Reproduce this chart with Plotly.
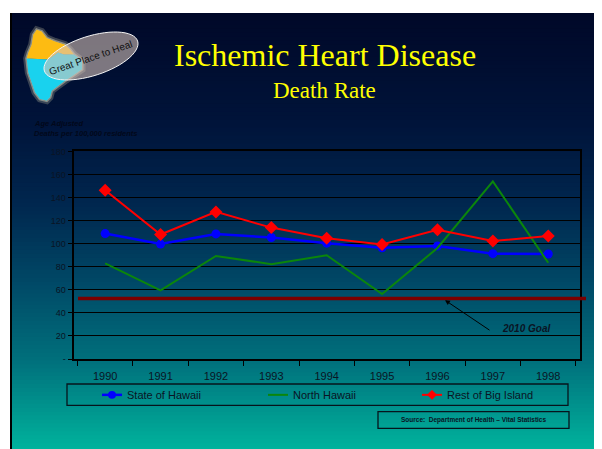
import math
import plotly.graph_objects as go

# ---------------- data ----------------
years = ["1990", "1991", "1992", "1993", "1994", "1995", "1996", "1997", "1998"]
state_of_hawaii = [108.8, 99.7, 108.5, 105.4, 100.5, 96.5, 98.0, 91.4, 91.1]
north_hawaii = [82.9, 59.5, 89.4, 82.3, 90.0, 56.4, 96.3, 154.1, 83.5]
rest_of_big_island = [146.4, 108.0, 127.6, 114.0, 104.8, 99.4, 112.2, 102.3, 106.8]
goal_2010 = 52.5
y_tick_vals = [0, 20, 40, 60, 80, 100, 120, 140, 160, 180]
y_tick_text = ["-", "20", "40", "60", "80", "100", "120", "140", "160", "180"]

W, H = 602, 449
OFF = 8  # page body margin
SY = 1.009
FONT = "Arial, Liberation Sans, sans-serif"
TXT = "#0a1424"


def px(x):
    return (x - OFF) / W


def py(y):
    return 1 - (y * SY - OFF) / H


fig = go.Figure()
fig.add_trace(go.Scatter(
    x=years, y=state_of_hawaii, name="State of Hawaii", mode="lines+markers",
    line=dict(color="#0000ff", width=2.5), marker=dict(symbol="circle", size=9, color="#0000ff")))
fig.add_trace(go.Scatter(
    x=years, y=north_hawaii, name="North Hawaii", mode="lines",
    line=dict(color="#0b860b", width=2)))
fig.add_trace(go.Scatter(
    x=years, y=rest_of_big_island, name="Rest of Big Island", mode="lines+markers",
    line=dict(color="#ff0000", width=2), marker=dict(symbol="diamond", size=10, color="#ff0000")))

shapes = []

# ---- slide background gradient (stripes) ----
stops = [(8, (0, 8, 40)), (120, (0, 20, 58)), (200, (0, 38, 78)), (280, (0, 72, 102)),
         (360, (0, 112, 124)), (460, (0, 186, 160))]


def col_at(y):
    for (y0, c0), (y1, c1) in zip(stops[:-1], stops[1:]):
        if y0 <= y <= y1:
            t = (y - y0) / (y1 - y0)
            return "rgb(%d,%d,%d)" % tuple(round(a + (b - a) * t) for a, b in zip(c0, c1))
    return "rgb(%d,%d,%d)" % stops[-1][1]


y = 8.0
step = 4.0
while y < H + 12:
    y2 = y + step
    shapes.append(dict(type="rect", xref="paper", yref="paper", layer="below",
                       x0=px(10), x1=px(600), y0=py(y2 + 1), y1=py(y),
                       fillcolor=col_at((y + y2) / 2), line=dict(width=0)))
    y = y2

# slide side borders
shapes.append(dict(type="line", xref="paper", yref="paper", layer="below",
                   x0=px(11), x1=px(11), y0=py(8), y1=py(470), line=dict(color="black", width=2)))
shapes.append(dict(type="line", xref="paper", yref="paper", layer="below",
                   x0=px(599), x1=px(599), y0=py(8), y1=py(470), line=dict(color="black", width=2)))


def poly(points):
    return "M " + " L ".join("%.5f,%.5f" % (px(a), py(b)) for a, b in points) + " Z"


yellow = [(36.7, 25), (41.7, 26.7), (46.7, 33.3), (55, 36.7), (65, 40), (70, 45), (74, 50),
          (64, 50), (58, 48), (48.3, 55), (26.7, 54), (28.3, 48.3), (31.7, 40), (33.3, 30)]
cyan = [(26.7, 54), (48.3, 55), (58, 48), (64, 50), (74, 50), (82, 56), (82, 65), (72, 72),
        (65, 76.7), (58.3, 81.7), (51.7, 86.7), (50, 93.3), (46.7, 96.7), (40, 95), (35, 88.3),
        (31.7, 78.3), (28.3, 68.3)]
outline = [(36.7, 25), (41.7, 26.7), (46.7, 33.3), (55, 36.7), (65, 40), (70, 45), (74, 50),
           (82, 56), (82, 65), (72, 72), (65, 76.7), (58.3, 81.7), (51.7, 86.7), (50, 93.3),
           (46.7, 96.7), (40, 95), (35, 88.3), (31.7, 78.3), (28.3, 68.3), (26.7, 54),
           (28.3, 48.3), (31.7, 40), (33.3, 30)]
shapes.append(dict(type="path", xref="paper", yref="paper", path=poly(outline),
                   fillcolor="rgba(255,255,220,0.2)", line=dict(color="rgba(255,250,200,0.22)", width=7)))
shapes.append(dict(type="path", xref="paper", yref="paper", path=poly(outline),
                   fillcolor="rgba(255,255,220,0.2)", line=dict(color="rgba(255,250,210,0.4)", width=3)))
shapes.append(dict(type="path", xref="paper", yref="paper", path=poly(yellow),
                   fillcolor="#fdbb12", line=dict(width=0)))
shapes.append(dict(type="path", xref="paper", yref="paper", path=poly(cyan),
                   fillcolor="#19d2ee", line=dict(width=0)))

# logo ellipse
cx, cy, ea, eb, th = 91, 51.5, 49, 20, math.radians(18)
ell = []
for i in range(60):
    t = 2 * math.pi * i / 60
    ex = cx + ea * math.cos(t) * math.cos(th) - eb * math.sin(t) * math.sin(th)
    ey = cy - (ea * math.cos(t) * math.sin(th) + eb * math.sin(t) * math.cos(th))
    ell.append((ex, ey))
shapes.append(dict(type="path", xref="paper", yref="paper", path=poly(ell),
                   fillcolor="rgba(215,196,186,0.58)", line=dict(color="#f4f4f4", width=1)))

# 2010 goal line
shapes.append(dict(type="line", xref="paper", yref="y", x0=px(78), x1=px(586),
                   y0=goal_2010, y1=goal_2010, line=dict(color="#7a0000", width=3.5)))

# legend box (manual) and source box
shapes.append(dict(type="rect", xref="paper", yref="paper", x0=px(67), x1=px(568), y0=py(405.7), y1=py(384),
                   line=dict(color="#06141c", width=1.3)))
shapes.append(dict(type="rect", xref="paper", yref="paper", x0=px(378), x1=px(569), y0=py(429), y1=py(412),
                   line=dict(color="#06141c", width=1.3)))
LY = 395
for (x0, c, w) in [(102, "#0000ff", 2.5), (268, "#0b860b", 2), (422, "#ff0000", 2)]:
    shapes.append(dict(type="line", xref="paper", yref="paper", x0=px(x0), x1=px(x0 + 20),
                       y0=py(LY), y1=py(LY), line=dict(color=c, width=w)))
shapes.append(dict(type="circle", xref="paper", yref="paper", x0=px(108), x1=px(116),
                   y0=py(LY + 4), y1=py(LY - 4), fillcolor="#0000ff", line=dict(width=0)))
shapes.append(dict(type="path", xref="paper", yref="paper",
                   path=poly([(432, LY - 5), (437, LY), (432, LY + 5), (427, LY)]),
                   fillcolor="#ff0000", line=dict(width=0)))

annotations = [
    dict(text="Ischemic Heart Disease", x=px(325), y=py(51), xref="paper", yref="paper", showarrow=False,
         xanchor="center", yanchor="middle", font=dict(family="Liberation Serif, Times New Roman, serif", size=32, color="#ffff00")),
    dict(text="Death Rate", x=px(324), y=py(86), xref="paper", yref="paper", showarrow=False,
         xanchor="center", yanchor="middle", font=dict(family="Liberation Serif, Times New Roman, serif", size=23, color="#ffff00")),
    dict(text="Great Place to Heal", x=px(91), y=py(53), xref="paper", yref="paper", showarrow=False,
         textangle=-19, xanchor="center", yanchor="middle", font=dict(family=FONT, size=10, color="#111111")),
    dict(text="<b><i>Age Adjusted</i></b>", x=px(32), y=py(120), xref="paper", yref="paper", showarrow=False,
         xanchor="left", yanchor="middle", font=dict(family=FONT, size=7.5, color="#02081a")),
    dict(text="<b><i>Deaths per 100,000 residents</i></b>", x=px(32), y=py(130.5), xref="paper", yref="paper",
         showarrow=False, xanchor="left", yanchor="middle", font=dict(family=FONT, size=7.5, color="#02081a")),
    dict(text="<b><i>2010 Goal</i></b>", x=px(500), y=py(328), xref="paper", yref="paper", showarrow=False,
         xanchor="left", yanchor="middle", font=dict(family=FONT, size=10, color=TXT)),
    dict(text="", x=px(445), y=py(299), xref="paper", yref="paper", showarrow=True, axref="pixel", ayref="pixel",
         ax=46, ay=31, arrowhead=2, arrowsize=1, arrowwidth=1, arrowcolor="#000000"),
    dict(text="State of Hawaii", x=px(125), y=py(LY), xref="paper", yref="paper", showarrow=False,
         xanchor="left", yanchor="middle", font=dict(family=FONT, size=11, color=TXT)),
    dict(text="North Hawaii", x=px(291), y=py(LY), xref="paper", yref="paper", showarrow=False,
         xanchor="left", yanchor="middle", font=dict(family=FONT, size=11, color=TXT)),
    dict(text="Rest of Big Island", x=px(445), y=py(LY), xref="paper", yref="paper", showarrow=False,
         xanchor="left", yanchor="middle", font=dict(family=FONT, size=11, color=TXT)),
    dict(text="<b>Source:  Department of Health \u2013 Vital Statistics</b>", x=px(473.5), y=py(420.5),
         xref="paper", yref="paper", showarrow=False, xanchor="center", yanchor="middle",
         font=dict(family=FONT, size=6.5, color=TXT)),
]

fig.update_layout(
    width=W, height=H, autosize=False,
    margin=dict(l=0, r=0, t=0, b=0),
    paper_bgcolor="white", plot_bgcolor="rgba(0,0,0,0)",
    showlegend=False,
    shapes=shapes, annotations=annotations,
    xaxis=dict(domain=[px(73.6), px(579.8)], type="category", showgrid=False, zeroline=False,
               showline=True, linecolor="black", linewidth=1.5, mirror=True,
               ticks="outside", tickson="boundaries", ticklen=5, tickcolor="black",
               ticklabelstandoff=6, tickfont=dict(family=FONT, size=11, color=TXT)),
    yaxis=dict(domain=[py(358.7), py(148.3)], range=[0, 180], tickvals=y_tick_vals, ticktext=y_tick_text,
               showgrid=True, gridcolor="black", gridwidth=1, zeroline=False,
               showline=True, linecolor="black", linewidth=2, mirror=True,
               ticks="outside", ticklen=4, tickcolor="black",
               tickfont=dict(family=FONT, size=9, color=TXT)),
)

fig.write_html("out.html")
